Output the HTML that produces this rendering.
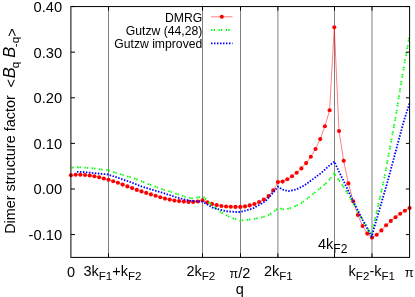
<!DOCTYPE html><html><head><meta charset="utf-8"><style>html,body{margin:0;padding:0;background:#fff}svg{display:block;will-change:transform}text{font-family:"Liberation Sans",sans-serif;fill:#000}</style></head><body>
<svg width="415" height="297" viewBox="0 0 415 297">
<rect width="415" height="297" fill="#fff"/>
<line x1="108.5" y1="6.56" x2="108.5" y2="257.4" stroke="#000" stroke-width="0.5"/>
<line x1="202.5" y1="6.56" x2="202.5" y2="257.4" stroke="#000" stroke-width="0.5"/>
<line x1="240.5" y1="6.56" x2="240.5" y2="257.4" stroke="#000" stroke-width="0.5"/>
<line x1="277.88" y1="6.56" x2="277.88" y2="257.4" stroke="#000" stroke-width="0.5"/>
<line x1="334.5" y1="6.56" x2="334.5" y2="257.4" stroke="#000" stroke-width="0.5"/>
<line x1="371.97" y1="6.56" x2="371.97" y2="257.4" stroke="#000" stroke-width="0.5"/>
<polyline points="70.9,175.3 75.6,174.7 80.3,174.7 85.0,175.0 89.7,175.5 94.4,176.3 99.1,177.3 103.8,178.5 108.5,179.8 113.2,181.3 117.9,182.8 122.6,184.6 127.4,186.4 132.1,188.1 136.8,189.9 141.5,191.4 146.2,192.9 150.9,194.4 155.6,195.8 160.3,197.2 165.0,198.6 169.7,199.6 174.4,200.6 179.1,201.1 183.8,201.6 188.5,201.9 193.2,201.9 197.9,201.5 202.6,200.4 207.3,202.4 212.0,203.9 216.7,205.1 221.4,206.0 226.1,206.5 230.8,206.8 235.5,206.9 240.3,206.9 245.0,206.4 249.7,205.4 254.4,204.1 259.1,202.0 263.8,199.5 268.5,196.0 273.2,190.4 277.9,182.1 282.6,181.6 287.3,179.3 292.0,176.3 296.7,172.7 301.4,168.4 306.1,163.1 310.8,156.8 315.5,149.0 320.2,139.1 324.9,126.2 329.6,110.3 334.3,27.2 339.0,131.0 343.7,160.8 348.4,183.4 353.2,201.2 357.9,215.0 362.6,226.0 367.3,233.6 372.0,237.6 376.7,234.7 381.4,230.4 386.1,225.3 390.8,220.9 395.5,217.2 400.2,213.7 404.9,210.7 409.6,208.0" fill="none" stroke="#ff0000" stroke-width="0.5"/>
<circle cx="70.9" cy="175.3" r="2.05" fill="#ff0000"/>
<circle cx="75.6" cy="174.7" r="2.05" fill="#ff0000"/>
<circle cx="80.3" cy="174.7" r="2.05" fill="#ff0000"/>
<circle cx="85.0" cy="175.0" r="2.05" fill="#ff0000"/>
<circle cx="89.7" cy="175.5" r="2.05" fill="#ff0000"/>
<circle cx="94.4" cy="176.3" r="2.05" fill="#ff0000"/>
<circle cx="99.1" cy="177.3" r="2.05" fill="#ff0000"/>
<circle cx="103.8" cy="178.5" r="2.05" fill="#ff0000"/>
<circle cx="108.5" cy="179.8" r="2.05" fill="#ff0000"/>
<circle cx="113.2" cy="181.3" r="2.05" fill="#ff0000"/>
<circle cx="117.9" cy="182.8" r="2.05" fill="#ff0000"/>
<circle cx="122.6" cy="184.6" r="2.05" fill="#ff0000"/>
<circle cx="127.4" cy="186.4" r="2.05" fill="#ff0000"/>
<circle cx="132.1" cy="188.1" r="2.05" fill="#ff0000"/>
<circle cx="136.8" cy="189.9" r="2.05" fill="#ff0000"/>
<circle cx="141.5" cy="191.4" r="2.05" fill="#ff0000"/>
<circle cx="146.2" cy="192.9" r="2.05" fill="#ff0000"/>
<circle cx="150.9" cy="194.4" r="2.05" fill="#ff0000"/>
<circle cx="155.6" cy="195.8" r="2.05" fill="#ff0000"/>
<circle cx="160.3" cy="197.2" r="2.05" fill="#ff0000"/>
<circle cx="165.0" cy="198.6" r="2.05" fill="#ff0000"/>
<circle cx="169.7" cy="199.6" r="2.05" fill="#ff0000"/>
<circle cx="174.4" cy="200.6" r="2.05" fill="#ff0000"/>
<circle cx="179.1" cy="201.1" r="2.05" fill="#ff0000"/>
<circle cx="183.8" cy="201.6" r="2.05" fill="#ff0000"/>
<circle cx="188.5" cy="201.9" r="2.05" fill="#ff0000"/>
<circle cx="193.2" cy="201.9" r="2.05" fill="#ff0000"/>
<circle cx="197.9" cy="201.5" r="2.05" fill="#ff0000"/>
<circle cx="202.6" cy="200.4" r="2.05" fill="#ff0000"/>
<circle cx="207.3" cy="202.4" r="2.05" fill="#ff0000"/>
<circle cx="212.0" cy="203.9" r="2.05" fill="#ff0000"/>
<circle cx="216.7" cy="205.1" r="2.05" fill="#ff0000"/>
<circle cx="221.4" cy="206.0" r="2.05" fill="#ff0000"/>
<circle cx="226.1" cy="206.5" r="2.05" fill="#ff0000"/>
<circle cx="230.8" cy="206.8" r="2.05" fill="#ff0000"/>
<circle cx="235.5" cy="206.9" r="2.05" fill="#ff0000"/>
<circle cx="240.3" cy="206.9" r="2.05" fill="#ff0000"/>
<circle cx="245.0" cy="206.4" r="2.05" fill="#ff0000"/>
<circle cx="249.7" cy="205.4" r="2.05" fill="#ff0000"/>
<circle cx="254.4" cy="204.1" r="2.05" fill="#ff0000"/>
<circle cx="259.1" cy="202.0" r="2.05" fill="#ff0000"/>
<circle cx="263.8" cy="199.5" r="2.05" fill="#ff0000"/>
<circle cx="268.5" cy="196.0" r="2.05" fill="#ff0000"/>
<circle cx="273.2" cy="190.4" r="2.05" fill="#ff0000"/>
<circle cx="277.9" cy="182.1" r="2.05" fill="#ff0000"/>
<circle cx="282.6" cy="181.6" r="2.05" fill="#ff0000"/>
<circle cx="287.3" cy="179.3" r="2.05" fill="#ff0000"/>
<circle cx="292.0" cy="176.3" r="2.05" fill="#ff0000"/>
<circle cx="296.7" cy="172.7" r="2.05" fill="#ff0000"/>
<circle cx="301.4" cy="168.4" r="2.05" fill="#ff0000"/>
<circle cx="306.1" cy="163.1" r="2.05" fill="#ff0000"/>
<circle cx="310.8" cy="156.8" r="2.05" fill="#ff0000"/>
<circle cx="315.5" cy="149.0" r="2.05" fill="#ff0000"/>
<circle cx="320.2" cy="139.1" r="2.05" fill="#ff0000"/>
<circle cx="324.9" cy="126.2" r="2.05" fill="#ff0000"/>
<circle cx="329.6" cy="110.3" r="2.05" fill="#ff0000"/>
<circle cx="334.3" cy="27.2" r="2.05" fill="#ff0000"/>
<circle cx="339.0" cy="131.0" r="2.05" fill="#ff0000"/>
<circle cx="343.7" cy="160.8" r="2.05" fill="#ff0000"/>
<circle cx="348.4" cy="183.4" r="2.05" fill="#ff0000"/>
<circle cx="353.2" cy="201.2" r="2.05" fill="#ff0000"/>
<circle cx="357.9" cy="215.0" r="2.05" fill="#ff0000"/>
<circle cx="362.6" cy="226.0" r="2.05" fill="#ff0000"/>
<circle cx="367.3" cy="233.6" r="2.05" fill="#ff0000"/>
<circle cx="372.0" cy="237.6" r="2.05" fill="#ff0000"/>
<circle cx="376.7" cy="234.7" r="2.05" fill="#ff0000"/>
<circle cx="381.4" cy="230.4" r="2.05" fill="#ff0000"/>
<circle cx="386.1" cy="225.3" r="2.05" fill="#ff0000"/>
<circle cx="390.8" cy="220.9" r="2.05" fill="#ff0000"/>
<circle cx="395.5" cy="217.2" r="2.05" fill="#ff0000"/>
<circle cx="400.2" cy="213.7" r="2.05" fill="#ff0000"/>
<circle cx="404.9" cy="210.7" r="2.05" fill="#ff0000"/>
<circle cx="409.6" cy="208.0" r="2.05" fill="#ff0000"/>
<polyline points="70.9,167.7 78.0,167.2 90.0,168.0 108.0,170.2 135.8,179.0 150.0,184.7 161.0,188.9 171.5,192.0 187.9,197.8 192.9,198.3 197.5,197.5 203.0,196.5 205.5,199.0 211.9,205.4 220.7,212.2 230.8,217.5 240.4,220.6 252.9,219.2 261.3,217.5 269.7,214.5 274.8,210.8 279.0,207.9 283.0,209.3 286.6,209.3 293.3,207.0 300.1,203.9 305.1,200.4 311.5,195.3 317.9,190.0 323.0,186.0 328.0,181.3 334.3,173.5 337.3,177.9 341.5,183.8 344.9,188.9 349.3,196.5 371.5,235.0 383.7,181.1 395.6,117.2 403.2,70.8 409.6,35.0" fill="none" stroke="#00ff00" stroke-width="1.8" stroke-dasharray="1.5 0.8 1.5 3.5" stroke-dashoffset="1.1"/>
<polyline points="76.9,171.9 82.0,171.9 108.0,174.5 129.8,181.8 141.6,186.5 153.4,190.1 165.2,193.6 175.3,197.0 183.5,199.2 189.3,200.6 195.0,201.2 198.0,201.4 202.5,201.6 213.1,207.9 225.8,211.2 235.9,212.0 240.4,212.0 252.6,208.6 265.3,201.3 272.8,192.9 277.9,186.7 282.4,189.6 288.3,191.1 296.0,189.6 304.4,185.4 312.9,179.1 321.3,172.9 329.7,165.3 334.4,161.6 338.2,170.0 342.4,178.5 347.4,189.0 355.0,204.8 362.7,220.2 371.7,236.5 387.4,182.2 404.0,120.5 409.6,103.0" fill="none" stroke="#0000ff" stroke-width="1.8" stroke-dasharray="1.5 1.5"/>
<rect x="70.9" y="6.56" width="338.70000000000005" height="250.83999999999997" fill="none" stroke="#000" stroke-width="1"/>
<line x1="108.5" y1="257.4" x2="108.5" y2="253.39999999999998" stroke="#000" stroke-width="1"/>
<line x1="108.5" y1="6.56" x2="108.5" y2="10.559999999999999" stroke="#000" stroke-width="1"/>
<line x1="202.5" y1="257.4" x2="202.5" y2="253.39999999999998" stroke="#000" stroke-width="1"/>
<line x1="202.5" y1="6.56" x2="202.5" y2="10.559999999999999" stroke="#000" stroke-width="1"/>
<line x1="240.5" y1="257.4" x2="240.5" y2="253.39999999999998" stroke="#000" stroke-width="1"/>
<line x1="240.5" y1="6.56" x2="240.5" y2="10.559999999999999" stroke="#000" stroke-width="1"/>
<line x1="277.88" y1="257.4" x2="277.88" y2="253.39999999999998" stroke="#000" stroke-width="1"/>
<line x1="277.88" y1="6.56" x2="277.88" y2="10.559999999999999" stroke="#000" stroke-width="1"/>
<line x1="334.5" y1="257.4" x2="334.5" y2="253.39999999999998" stroke="#000" stroke-width="1"/>
<line x1="334.5" y1="6.56" x2="334.5" y2="10.559999999999999" stroke="#000" stroke-width="1"/>
<line x1="371.97" y1="257.4" x2="371.97" y2="253.39999999999998" stroke="#000" stroke-width="1"/>
<line x1="371.97" y1="6.56" x2="371.97" y2="10.559999999999999" stroke="#000" stroke-width="1"/>
<line x1="70.9" y1="6.56" x2="75.0" y2="6.56" stroke="#000" stroke-width="1"/>
<line x1="409.6" y1="6.56" x2="405.90000000000003" y2="6.56" stroke="#000" stroke-width="1"/>
<text x="62.1" y="12.06" font-size="14.7" text-anchor="end">0.40</text>
<line x1="70.9" y1="52.17" x2="75.0" y2="52.17" stroke="#000" stroke-width="1"/>
<line x1="409.6" y1="52.17" x2="405.90000000000003" y2="52.17" stroke="#000" stroke-width="1"/>
<text x="62.1" y="57.67" font-size="14.7" text-anchor="end">0.30</text>
<line x1="70.9" y1="97.77" x2="75.0" y2="97.77" stroke="#000" stroke-width="1"/>
<line x1="409.6" y1="97.77" x2="405.90000000000003" y2="97.77" stroke="#000" stroke-width="1"/>
<text x="62.1" y="103.27" font-size="14.7" text-anchor="end">0.20</text>
<line x1="70.9" y1="143.38" x2="75.0" y2="143.38" stroke="#000" stroke-width="1"/>
<line x1="409.6" y1="143.38" x2="405.90000000000003" y2="143.38" stroke="#000" stroke-width="1"/>
<text x="62.1" y="148.88" font-size="14.7" text-anchor="end">0.10</text>
<line x1="70.9" y1="188.99" x2="75.0" y2="188.99" stroke="#000" stroke-width="1"/>
<line x1="409.6" y1="188.99" x2="405.90000000000003" y2="188.99" stroke="#000" stroke-width="1"/>
<text x="62.1" y="194.49" font-size="14.7" text-anchor="end">0.00</text>
<line x1="70.9" y1="234.60" x2="75.0" y2="234.60" stroke="#000" stroke-width="1"/>
<line x1="409.6" y1="234.60" x2="405.90000000000003" y2="234.60" stroke="#000" stroke-width="1"/>
<text x="62.1" y="240.10" font-size="14.7" text-anchor="end">-0.10</text>
<text x="202.3" y="22.2" font-size="12.2" text-anchor="end">DMRG</text>
<text x="202.3" y="35.3" font-size="12.2" text-anchor="end">Gutzw (44,28)</text>
<text x="202.3" y="48.3" font-size="12.2" text-anchor="end">Gutzw improved</text>
<line x1="211" y1="16.8" x2="232.5" y2="16.8" stroke="#ff0000" stroke-width="0.5"/><circle cx="221.8" cy="16.8" r="2.05" fill="#ff0000"/>
<line x1="211" y1="30" x2="232.5" y2="30" stroke="#00ff00" stroke-width="1.8" stroke-dasharray="1.3 1.2 1.3 3.5" stroke-dashoffset="-0.2"/>
<line x1="211" y1="43.3" x2="232.5" y2="43.3" stroke="#0000ff" stroke-width="1.8" stroke-dasharray="1.5 1.5"/>
<text x="71" y="277.3" font-size="14.5" text-anchor="middle">0</text>
<text x="83.4" y="276.3" font-size="14.5"><tspan font-size="14.5" dy="0">3k</tspan><tspan font-size="11.6" dy="3.3">F1</tspan><tspan font-size="14.5" dy="-3.3">+k</tspan><tspan font-size="11.6" dy="3.3">F2</tspan></text>
<text x="186.4" y="276.3" font-size="14.5"><tspan font-size="14.5" dy="0">2k</tspan><tspan font-size="11.6" dy="3.3">F2</tspan></text>
<text x="239.9" y="278.0" font-size="14.5" text-anchor="middle"><tspan font-size="12.5">π</tspan>/2</text>
<text x="263.9" y="276.3" font-size="14.5"><tspan font-size="14.5" dy="0">2k</tspan><tspan font-size="11.6" dy="3.3">F1</tspan></text>
<text x="318" y="248.6" font-size="14.5"><tspan font-size="14.5" dy="0">4k</tspan><tspan font-size="12.0" dy="4.0">F2</tspan></text>
<text x="348.6" y="276.3" font-size="14.5"><tspan font-size="14.5" dy="0">k</tspan><tspan font-size="11.6" dy="3.3">F2</tspan><tspan font-size="14.5" dy="-3.3">-k</tspan><tspan font-size="11.6" dy="3.3">F1</tspan></text>
<text x="409.3" y="277.2" font-size="13" text-anchor="middle">π</text>
<text x="239.9" y="293.9" font-size="14.5" text-anchor="middle">q</text>
<text transform="translate(15.2,233.8) rotate(-90)" font-size="14.42">Dimer structure factor</text>
<text transform="translate(16.3,87.4) rotate(-90)" font-size="14.5">&lt;</text>
<text transform="translate(15.2,78.3) rotate(-90)" font-size="16.5" font-style="italic">B</text>
<text transform="translate(18.8,68.2) rotate(-90)" font-size="11.6">q</text>
<text transform="translate(15.2,57.8) rotate(-90)" font-size="16.5" font-style="italic">B</text>
<text transform="translate(18.8,47.2) rotate(-90)" font-size="11.6">-q</text>
<text transform="translate(16.5,36.8) rotate(-90)" font-size="14.5">&gt;</text>
</svg></body></html>
